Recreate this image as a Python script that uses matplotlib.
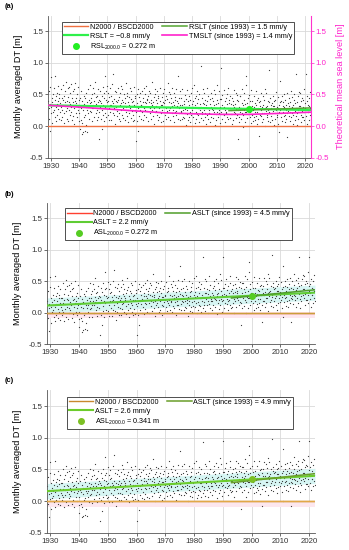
import numpy as np
import matplotlib.pyplot as plt
from matplotlib.lines import Line2D

plt.rcParams['font.family'] = ['Liberation Sans', 'DejaVu Sans']
plt.rcParams['mathtext.fontset'] = 'custom'
plt.rcParams['mathtext.rm'] = 'Liberation Sans'
plt.rcParams['mathtext.it'] = 'Liberation Sans:italic'

# monthly averaged DT, cm, 8 samples per year, 1929-2021
years = np.arange(1929, 2022)

dt_a_cm = [
    [40, 12, 55, 28, -8, 35, 62, 20], [78, 30, 45, 5, 38, 22, 50, 33],
    [25, 60, 15, 42, 80, 31, 8, 47], [35, 18, 52, 40, 27, 64, 12, 44],
    [50, 22, 36, 10, 58, 30, 45, 26], [15, 42, 65, 33, 20, 48, 5, 38],
    [32, 55, 24, 70, 12, 40, 28, 60], [46, 8, 38, 25, 62, 18, 35, 52],
    [22, 66, 30, 44, 10, 55, 38, 16], [58, 28, 4, 40, 33, 68, 20, 45],
    [36, 14, 50, 26, 62, 30, 42, 8], [20, -5, 45, 32, 10, 55, 28, -12],
    [40, 5, 25, -10, 35, 15, 48, -8], [18, 44, 2, 30, 52, -10, 26, 38],
    [30, 58, 20, 42, 12, 36, 65, 24], [45, 22, 38, 8, 50, 28, 60, 34],
    [28, 52, 14, 40, 70, 32, 20, 46], [35, 10, 48, 25, 58, 38, 15, 42],
    [22, -20, 40, 30, 55, 12, 36, -5], [48, 26, 62, 18, 34, 44, 8, 52],
    [30, 80, 20, 42, 55, 15, 38, 64], [40, 18, 52, 28, 10, 46, 34, 60],
    [23, 48, 34, 10, 40, 66, 20, 36], [83, 28, 43, 18, 56, 32, 3, 40],
    [30, 54, 16, 38, 24, 60, 42, 12], [46, 20, 33, 53, 8, 36, 26, 64],
    [18, 42, 58, 28, 38, 13, 50, 32], [36, 10, 44, 23, 68, 30, 48, 16],
    [53, 26, 38, 6, 34, 46, 20, 60], [28, 43, 13, 56, 24, 38, 32, 8],
    [40, 18, 62, 33, 10, 48, 26, 44], [23, -24, 36, 50, 8, 28, 58, -7],
    [46, 30, 16, 40, 26, 53, 34, 12], [33, 56, 22, 38, 10, 44, 28, 60],
    [18, 38, 50, 26, 64, 14, 36, 42], [43, 24, 8, 48, 30, 38, 56, 20],
    [28, 53, 36, 12, 42, 26, 70, 34], [38, 16, 46, 28, 4, 50, 22, 58],
    [24, 42, 32, 56, 18, 36, 10, 44], [48, 28, 14, 40, 60, 22, 34, 6],
    [20, 46, 34, 26, 52, 8, 38, 30], [36, 58, 18, 42, 28, 12, 48, 24],
    [43, 22, 68, 30, 14, 38, 26, 54], [28, 50, 10, 36, 44, 20, 60, 32],
    [16, 38, 26, 53, 34, 6, 42, 22], [46, 24, 58, 18, 32, 40, 12, 36],
    [80, 28, 20, 44, 10, 34, 56, 24], [23, 45, 33, 11, 59, 25, 15, 39],
    [35, 13, 49, 27, 21, 43, 1, 31], [19, 57, 25, 39, 9, 33, 47, 15],
    [41, 23, 7, 53, 29, 17, 35, 61], [25, 39, 15, 31, 65, 21, 45, 5],
    [33, 11, 47, 23, 37, 55, 19, 29], [17, 43, 29, 7, 51, 25, 35, 13],
    [95, 31, 19, 45, 23, 59, 9, 37], [25, 53, 35, 15, 41, 21, 3, 33],
    [39, 17, 61, 29, 11, 47, 25, 21], [21, 35, 7, 43, 31, 15, 53, 27],
    [45, 25, 39, 13, 57, 23, 33, 1], [29, 51, 19, 35, 9, 41, 23, 65],
    [15, 37, 25, 55, 21, 31, 5, 43], [92, 23, 43, 11, 33, 49, 19, 29],
    [31, 57, 17, 39, 25, 7, 45, 21], [23, 35, 51, 15, 61, 29, 11, 37],
    [41, 13, 29, 47, 19, 35, 25, 3], [19, 45, 33, 9, 39, 57, 23, 31],
    [35, 21, 53, 27, 13, 41, 17, 49], [25, -20, 39, 15, 31, 7, 47, 23],
    [47, 29, 11, 37, 59, 21, 33, -1], [17, 41, 25, 53, 7, 35, 23, 65],
    [80, 23, 37, 13, 45, 29, 19, 31], [31, 49, 15, 39, 23, 5, 57, 25],
    [18, 32, 40, 8, 26, 48, 14, 30], [36, 10, 22, 56, 16, 34, 4, 42],
    [22, 44, 28, 12, 38, -15, 32, 18], [40, 16, 52, 26, 6, 30, 20, 48],
    [12, 34, 20, 42, 28, 0, 58, 24], [30, 52, 14, 32, 18, 40, 8, 26],
    [88, 22, 38, 6, 44, 16, 28, 34], [20, 36, 10, 48, 24, 32, 2, 40],
    [32, 12, 42, 20, 54, 26, 14, 30], [18, 46, 28, 4, 34, 22, -10, 38],
    [72, 26, 14, 40, 20, 48, 8, 32], [22, 38, 50, 16, 30, 6, 42, 18],
    [34, 12, 26, 52, 20, -18, 36, 24], [16, 44, 32, 8, 38, 22, 56, 14],
    [28, 20, 46, 30, 4, 34, 18, 50], [42, 10, 24, 36, 82, 16, 28, 2],
    [20, 38, 12, 48, 26, 32, 54, 22], [32, 52, 18, 6, 40, 24, 14, 44],
    [14, 30, 42, 22, 58, 10, 36, 28], [82, 26, 16, 40, 4, 48, 22, 34],
    [22, 44, 10, 32, 18, 54, 28, 12],
]

dt_b_cm = [
    [19, -9, 34, 7, -29, 14, 41, -1], [57, 9, 24, -16, 17, 1, 29, 12],
    [4, 39, -6, 21, 59, 10, -13, 26], [14, -3, 31, 19, 6, 43, -9, 23],
    [29, 1, 15, -11, 37, 9, 24, 5], [-3, 24, 47, 15, 2, 30, -13, 20],
    [14, 37, 6, 52, -6, 22, 10, 42], [28, -10, 20, 7, 44, 0, 17, 34],
    [4, 48, 12, 26, -8, 37, 20, -2], [40, 10, -14, 22, 15, 50, 2, 27],
    [18, -4, 32, 8, 44, 12, 24, -10], [2, -23, 27, 14, -8, 37, 10, -30],
    [22, -13, 7, -28, 17, -3, 30, -26], [0, 26, -16, 12, 34, -28, 8, 20],
    [12, 40, 2, 24, -6, 18, 47, 6], [30, 7, 23, -7, 35, 13, 45, 19],
    [13, 37, -1, 25, 55, 17, 5, 31], [20, -5, 33, 10, 43, 23, 0, 27],
    [7, -35, 25, 15, 40, -3, 21, -20], [33, 11, 47, 3, 19, 29, -7, 37],
    [15, 65, 5, 27, 40, 0, 23, 49], [25, 3, 37, 13, -5, 31, 19, 45],
    [8, 33, 19, -5, 25, 51, 5, 21], [68, 13, 28, 3, 41, 17, -12, 25],
    [15, 39, 1, 23, 9, 45, 27, -3], [34, 8, 21, 41, -4, 24, 14, 52],
    [6, 30, 46, 16, 26, 1, 38, 20], [24, -2, 32, 11, 56, 18, 36, 4],
    [41, 14, 26, -6, 22, 34, 8, 48], [16, 31, 1, 44, 12, 26, 20, -4],
    [28, 6, 50, 21, -2, 36, 14, 32], [11, -36, 24, 38, -4, 16, 46, -19],
    [34, 18, 4, 28, 14, 41, 22, 0], [21, 44, 10, 26, -2, 32, 16, 48],
    [6, 26, 38, 14, 52, 2, 24, 30], [34, 15, -1, 39, 21, 29, 47, 11],
    [19, 44, 27, 3, 33, 17, 61, 25], [29, 7, 37, 19, -5, 41, 13, 49],
    [15, 33, 23, 47, 9, 27, 1, 35], [39, 19, 5, 31, 51, 13, 25, -3],
    [11, 37, 25, 17, 43, -1, 29, 21], [27, 49, 9, 33, 19, 3, 39, 15],
    [34, 13, 59, 21, 5, 29, 17, 45], [19, 41, 1, 27, 35, 11, 51, 23],
    [7, 29, 17, 44, 25, -3, 33, 13], [40, 18, 52, 12, 26, 34, 6, 30],
    [74, 22, 14, 38, 4, 28, 50, 18], [17, 39, 27, 5, 53, 19, 9, 33],
    [29, 7, 43, 21, 15, 37, -5, 25], [13, 51, 19, 33, 3, 27, 41, 9],
    [35, 17, 1, 47, 23, 11, 29, 55], [19, 33, 9, 25, 59, 15, 39, -1],
    [27, 5, 41, 17, 31, 49, 13, 23], [11, 37, 23, 1, 45, 19, 29, 7],
    [89, 25, 13, 39, 17, 53, 3, 31], [22, 50, 32, 12, 38, 18, 0, 30],
    [36, 14, 58, 26, 8, 44, 22, 18], [18, 32, 4, 40, 28, 12, 50, 24],
    [42, 22, 36, 10, 54, 20, 30, -2], [26, 48, 16, 32, 6, 38, 20, 62],
    [12, 34, 22, 52, 18, 28, 2, 40], [89, 20, 40, 8, 30, 46, 16, 26],
    [28, 54, 14, 36, 22, 4, 42, 18], [20, 32, 48, 12, 58, 26, 8, 34],
    [38, 10, 26, 44, 16, 32, 22, 0], [19, 45, 33, 9, 39, 57, 23, 31],
    [35, 21, 53, 27, 13, 41, 17, 49], [25, -20, 39, 15, 31, 7, 47, 23],
    [47, 29, 11, 37, 59, 21, 33, -1], [17, 41, 25, 53, 7, 35, 23, 65],
    [80, 23, 37, 13, 45, 29, 19, 31], [31, 49, 15, 39, 23, 5, 57, 25],
    [18, 32, 40, 8, 26, 48, 14, 30], [36, 10, 22, 56, 16, 34, 4, 42],
    [22, 44, 28, 12, 38, -15, 32, 18], [43, 19, 55, 29, 9, 33, 23, 51],
    [15, 37, 23, 45, 31, 3, 61, 27], [33, 55, 17, 35, 21, 43, 11, 29],
    [91, 25, 41, 9, 47, 19, 31, 37], [23, 39, 13, 51, 27, 35, 5, 43],
    [35, 15, 45, 23, 57, 29, 17, 33], [21, 49, 31, 7, 37, 25, -7, 41],
    [75, 29, 17, 43, 23, 51, 11, 35], [25, 41, 53, 19, 33, 9, 45, 21],
    [37, 15, 29, 55, 23, -15, 39, 27], [22, 50, 38, 14, 44, 28, 62, 20],
    [34, 26, 52, 36, 10, 40, 24, 56], [48, 16, 30, 42, 88, 22, 34, 8],
    [26, 44, 18, 54, 32, 38, 60, 28], [38, 58, 24, 12, 46, 30, 20, 50],
    [20, 36, 48, 28, 64, 16, 42, 34], [88, 32, 22, 46, 10, 54, 28, 40],
    [28, 50, 16, 38, 24, 60, 34, 18],
]

dt_c_cm = [
    [23, -5, 38, 11, -25, 18, 45, 3], [61, 13, 28, -12, 21, 5, 33, 16],
    [8, 43, -2, 25, 63, 14, -9, 30], [18, 1, 35, 23, 10, 47, -5, 27],
    [33, 5, 19, -7, 41, 13, 28, 9], [1, 28, 51, 19, 6, 34, -9, 24],
    [18, 41, 10, 56, -2, 26, 14, 46], [32, -6, 24, 11, 48, 4, 21, 38],
    [8, 52, 16, 30, -4, 41, 24, 2], [44, 14, -10, 26, 19, 54, 6, 31],
    [22, 0, 36, 12, 48, 16, 28, -6], [6, -19, 31, 18, -4, 41, 14, -26],
    [26, -9, 11, -24, 21, 1, 34, -22], [4, 30, -12, 16, 38, -24, 12, 24],
    [16, 44, 6, 28, -2, 22, 51, 10], [34, 11, 27, -3, 39, 17, 49, 23],
    [17, 41, 3, 29, 59, 21, 9, 35], [24, -1, 37, 14, 47, 27, 4, 31],
    [11, -31, 29, 19, 44, 1, 25, -16], [37, 15, 51, 7, 23, 33, -3, 41],
    [19, 69, 9, 31, 44, 4, 27, 53], [29, 7, 41, 17, -1, 35, 23, 49],
    [12, 37, 23, -1, 29, 55, 9, 25], [72, 17, 32, 7, 45, 21, -8, 29],
    [19, 43, 5, 27, 13, 49, 31, 1], [39, 13, 26, 46, 1, 29, 19, 57],
    [11, 35, 51, 21, 31, 6, 43, 25], [29, 3, 37, 16, 61, 23, 41, 9],
    [46, 19, 31, -1, 27, 39, 13, 53], [21, 36, 6, 49, 17, 31, 25, 1],
    [33, 11, 55, 26, 3, 41, 19, 37], [16, -31, 29, 43, 1, 21, 51, -14],
    [39, 23, 9, 33, 19, 46, 27, 5], [26, 49, 15, 31, 3, 37, 21, 53],
    [11, 31, 43, 19, 57, 7, 29, 35], [39, 20, 4, 44, 26, 34, 52, 16],
    [24, 49, 32, 8, 38, 22, 66, 30], [34, 12, 42, 24, 0, 46, 18, 54],
    [20, 38, 28, 52, 14, 32, 6, 40], [44, 24, 10, 36, 56, 18, 30, 2],
    [16, 42, 30, 22, 48, 4, 34, 26], [32, 54, 14, 38, 24, 8, 44, 20],
    [39, 18, 64, 26, 10, 34, 22, 50], [24, 46, 6, 32, 40, 16, 56, 28],
    [12, 34, 22, 49, 30, 2, 38, 18], [45, 23, 57, 17, 31, 39, 11, 35],
    [79, 27, 19, 43, 9, 33, 55, 23], [22, 44, 32, 10, 58, 24, 14, 38],
    [34, 12, 48, 26, 20, 42, 0, 30], [18, 56, 24, 38, 8, 32, 46, 14],
    [40, 22, 6, 52, 28, 16, 34, 60], [24, 38, 14, 30, 64, 20, 44, 4],
    [32, 10, 46, 22, 36, 54, 18, 28], [16, 42, 28, 6, 50, 24, 34, 12],
    [94, 30, 18, 44, 22, 58, 8, 36], [28, 56, 38, 18, 44, 24, 6, 36],
    [42, 20, 64, 32, 14, 50, 28, 24], [24, 38, 10, 46, 34, 18, 56, 30],
    [48, 28, 42, 16, 60, 26, 36, 4], [32, 54, 22, 38, 12, 44, 26, 68],
    [18, 40, 28, 58, 24, 34, 8, 46], [95, 26, 46, 14, 36, 52, 22, 32],
    [34, 60, 20, 42, 28, 10, 48, 24], [26, 38, 54, 18, 64, 32, 14, 40],
    [44, 16, 32, 50, 22, 38, 28, 6], [26, 52, 40, 16, 46, 64, 30, 38],
    [42, 28, 60, 34, 20, 48, 24, 56], [32, -13, 46, 22, 38, 14, 54, 30],
    [54, 36, 18, 44, 66, 28, 40, 6], [24, 48, 32, 60, 14, 42, 30, 72],
    [87, 30, 44, 20, 52, 36, 26, 38], [38, 56, 22, 46, 30, 12, 64, 32],
    [25, 39, 47, 15, 33, 55, 21, 37], [43, 17, 29, 63, 23, 41, 11, 49],
    [29, 51, 35, 19, 45, -8, 39, 25], [50, 26, 62, 36, 16, 40, 30, 58],
    [22, 44, 30, 52, 38, 10, 68, 34], [40, 62, 24, 42, 28, 50, 18, 36],
    [98, 32, 48, 16, 54, 26, 38, 44], [30, 46, 20, 58, 34, 42, 12, 50],
    [42, 22, 52, 30, 64, 36, 24, 40], [28, 56, 38, 14, 44, 32, 0, 48],
    [82, 36, 24, 50, 30, 58, 18, 42], [32, 48, 60, 26, 40, 16, 52, 28],
    [44, 22, 36, 62, 30, -8, 46, 34], [29, 57, 45, 21, 51, 35, 69, 27],
    [41, 33, 59, 43, 17, 47, 31, 63], [55, 23, 37, 49, 95, 29, 41, 15],
    [33, 51, 25, 61, 39, 45, 67, 35], [45, 65, 31, 19, 53, 37, 27, 57],
    [27, 43, 55, 35, 71, 23, 49, 41], [95, 39, 29, 53, 17, 61, 35, 47],
    [35, 57, 23, 45, 31, 67, 41, 25],
]

# trend lines [m]
trend_years = [1929, 2022]
since_years = [1993, 2022]
rslt_a = [0.329, 0.254]
rslt93_a = [0.245, 0.288]
tmsl_years = [1929, 1940, 1950, 1960, 1970, 1980, 1990, 2000, 2010, 2022]
tmsl_a = [0.33, 0.30, 0.27, 0.24, 0.21, 0.195, 0.185, 0.185, 0.20, 0.22]
aslt_b = [0.116, 0.320]
aslt93_b = [0.235, 0.365]
aslt_c = [0.156, 0.398]
aslt93_c = [0.290, 0.432]
band_b_lo = [-0.004, 0.200]
band_b_hi = [0.236, 0.440]
band_c_lo = [0.036, 0.278]
band_c_hi = [0.276, 0.518]
ref_lo = [-0.09, -0.09]
sl2000 = [0.272, 0.272, 0.341]

fig = plt.figure(figsize=(3.49, 5.5), dpi=100)
ax_a = fig.add_axes([0.1375, 0.7133, 0.7536, 0.2585])
ax_b = fig.add_axes([0.1355, 0.374, 0.767, 0.2577])
ax_c = fig.add_axes([0.1355, 0.0315, 0.767, 0.259])


def month_x(n):
    return (years[:, None] + (np.arange(n) + 0.5) / n).ravel()


def setup(ax):
    ax.set_xlim(1929, 2022)
    ax.set_ylim(-0.5, 1.75)
    ax.set_xticks(range(1930, 2021, 10))
    ax.set_yticks([-0.5, 0.0, 0.5, 1.0, 1.5])
    ax.yaxis.set_major_formatter(plt.FormatStrFormatter('%.1f'))
    ax.grid(True, color='#d9d9d9', lw=0.6)
    ax.set_axisbelow(True)
    for s in ['top', 'right']:
        ax.spines[s].set_visible(False)
    for s in ['left', 'bottom']:
        ax.spines[s].set_color('#555555')
        ax.spines[s].set_linewidth(0.6)
    ax.tick_params(labelsize=5.7, length=2, width=0.5, pad=1.5, colors='#333333')
    ax.set_ylabel('Monthly averaged DT [m]', fontsize=6.6, labelpad=5)


def scatter(ax, dt_cm):
    vals = np.array(dt_cm).ravel() / 100.0
    ax.scatter(month_x(8), vals, s=0.8, c='#3a3a3a', linewidths=0, zorder=2)


def legend(ax, handles, anchor):
    leg = ax.legend(handles=handles, ncol=2, loc='upper left', bbox_to_anchor=anchor,
                    borderaxespad=0, fontsize=5.2, handlelength=3.4, handletextpad=0.25,
                    columnspacing=0.9, labelspacing=0.25, borderpad=0.3,
                    fancybox=False, framealpha=1, edgecolor='#333333')
    leg.get_frame().set_linewidth(0.6)
    leg.set_zorder(10)


blank = Line2D([], [], color='none', label=' ')

# (a)
setup(ax_a)
scatter(ax_a, dt_a_cm)
h0, = ax_a.plot(trend_years, [0, 0], color='#f07040', lw=1.0, label='N2000 / BSCD2000', zorder=3)
h1, = ax_a.plot(trend_years, rslt_a, color='#2ef04a', lw=1.6, label='RSLT = \u22120.8 mm/y', zorder=4)
h3, = ax_a.plot(since_years, rslt93_a, color='#55a532', lw=1.1, label='RSLT (since 1993) = 1.5 mm/y', zorder=5)
h2, = ax_a.plot([2000], [sl2000[0]], 'o', color='#22ee22', ms=4, label=r'RSL$_{\mathrm{2000.0}}$ = 0.272 m', zorder=6)
ax_a2 = ax_a.twinx()
ax_a2.set_ylim(-0.5, 1.75)
ax_a2.set_yticks([-0.5, 0.0, 0.5, 1.0, 1.5])
ax_a2.yaxis.set_major_formatter(plt.FormatStrFormatter('%.1f'))
h4, = ax_a2.plot(tmsl_years, tmsl_a, color='#ff22cc', lw=1.2, label='TMSLT (since 1993) = 1.4 mm/y')
for s in ['top', 'left', 'bottom']:
    ax_a2.spines[s].set_visible(False)
ax_a2.spines['right'].set_color('#ff33cc')
ax_a2.spines['right'].set_linewidth(0.8)
ax_a2.tick_params(labelsize=5.7, length=2, width=0.5, pad=1.5, colors='#ff22cc')
ax_a2.set_ylabel('Theoretical mean sea level [m]', fontsize=6.6, color='#ff22cc', labelpad=5)
legend(ax_a2, [h0, h1, h2, h3, h4], (0.052, 0.956))

# (b)
setup(ax_b)
ax_b.fill_between(trend_years, band_b_lo, band_b_hi, color='#d6f5f3', lw=0, zorder=1)
ax_b.fill_between(trend_years, ref_lo, [0, 0], color='#fde7ef', lw=0, zorder=1)
scatter(ax_b, dt_b_cm)
g0, = ax_b.plot(trend_years, [0, 0], color='#ff4030', lw=1.0, label='N2000 / BSCD2000', zorder=3)
ax_b.plot(trend_years, [0, 0], color='#c9a03c', lw=1.0, zorder=3)
g1, = ax_b.plot(trend_years, aslt_b, color='#5fcc34', lw=1.5, label='ASLT = 2.2 mm/y', zorder=4)
g3, = ax_b.plot(since_years, aslt93_b, color='#4f9e2a', lw=1.1, label='ASLT (since 1993) = 4.5 mm/y', zorder=5)
g2, = ax_b.plot([2000], [sl2000[1]], 'o', color='#55cc22', ms=4, label=r'ASL$_{\mathrm{2000.0}}$ = 0.272 m', zorder=6)
legend(ax_b, [g0, g1, g2, g3, blank, blank], (0.066, 0.96))

# (c)
setup(ax_c)
ax_c.fill_between(trend_years, band_c_lo, band_c_hi, color='#d6f5f3', lw=0, zorder=1)
ax_c.fill_between(trend_years, ref_lo, [0, 0], color='#fde7ef', lw=0, zorder=1)
scatter(ax_c, dt_c_cm)
k0, = ax_c.plot(trend_years, [0, 0], color='#c8882e', lw=1.0, label='N2000 / BSCD2000', zorder=3)
ax_c.plot(trend_years, [0, 0], color='#e2a848', lw=1.0, zorder=3)
k1, = ax_c.plot(trend_years, aslt_c, color='#6ccc2c', lw=1.5, label='ASLT = 2.6 mm/y', zorder=4)
k3, = ax_c.plot(since_years, aslt93_c, color='#6a9e2a', lw=1.1, label='ASLT (since 1993) = 4.9 mm/y', zorder=5)
k2, = ax_c.plot([2000], [sl2000[2]], 'o', color='#7cc024', ms=4, label=r'ASL$_{\mathrm{2000.0}}$ = 0.341 m', zorder=6)
legend(ax_c, [k0, k1, k2, k3, blank, blank], (0.072, 0.955))

fig.text(0.014, 1 - 6 / 550, '(a)', fontsize=5.4, weight='bold', va='center')
fig.text(0.014, 1 - 195 / 550, '(b)', fontsize=5.4, weight='bold', va='center')
fig.text(0.014, 1 - 381 / 550, '(c)', fontsize=5.4, weight='bold', va='center')

fig.savefig('out.png', dpi=100)
